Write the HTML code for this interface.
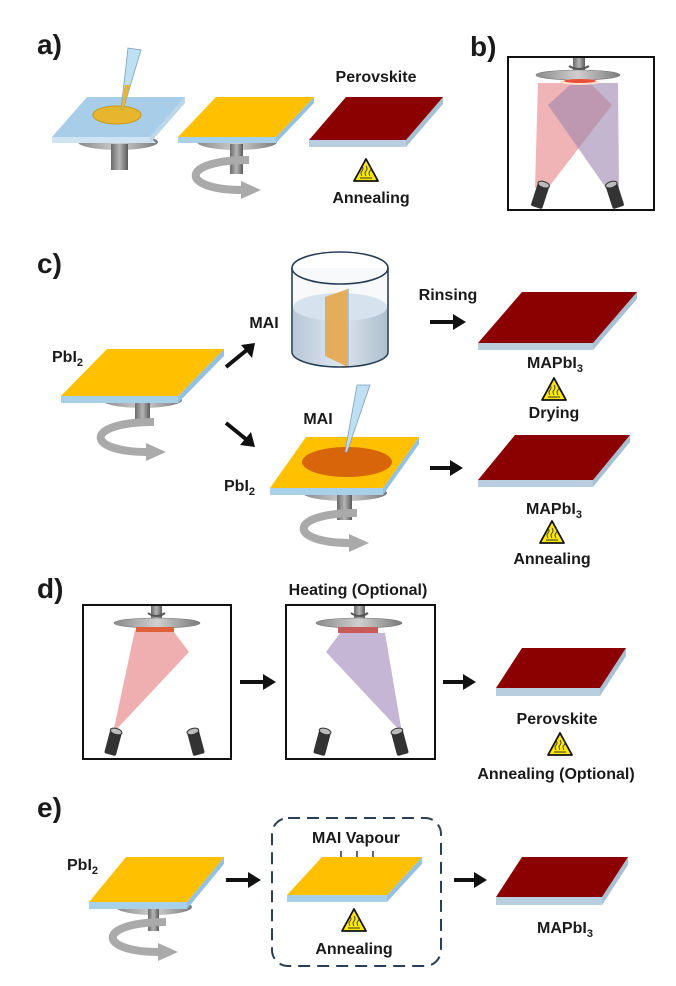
<!DOCTYPE html>
<html><head><meta charset="utf-8"><style>
html,body{margin:0;padding:0;background:#fff;}
svg{display:block;}
text{font-family:"Liberation Sans",Arial,sans-serif;font-weight:bold;fill:#1a1a1a;}
</style></head><body>
<svg width="676" height="986" viewBox="0 0 676 986" xmlns="http://www.w3.org/2000/svg">
<defs>
  <linearGradient id="gshaft" x1="0" x2="1" y1="0" y2="0"><stop offset="0" stop-color="#6a6a6a"/><stop offset=".5" stop-color="#b5b5b5"/><stop offset="1" stop-color="#5a5a5a"/></linearGradient>
  <linearGradient id="gdisk" x1="0" x2="1"><stop offset="0" stop-color="#8a8a8a"/><stop offset=".5" stop-color="#d0d0d0"/><stop offset="1" stop-color="#7a7a7a"/></linearGradient>
  <linearGradient id="gliq" x1="0" x2="1"><stop offset="0" stop-color="#b8c8d6"/><stop offset=".5" stop-color="#dde7ef"/><stop offset="1" stop-color="#aebfce"/></linearGradient>
  <g id="warn">
    <polygon points="0,-13 12,9 -12,9" fill="#ffe800" stroke="#111" stroke-width="1.8" stroke-linejoin="round"/>
    <path d="M-4,4 q-2,-3 0,-5 q2,-2 0,-5 M0,4 q-2,-3 0,-5 q2,-2 0,-5 M4,4 q-2,-3 0,-5 q2,-2 0,-5" fill="none" stroke="#333" stroke-width="0.9"/>
    <line x1="-6" y1="6" x2="6" y2="6" stroke="#333" stroke-width="1"/>
  </g>
  <g id="rot">
    <path d="M12,0 C-58,0 -58,30 6,30" fill="none" stroke="#aaa" stroke-width="8"/>
    <polygon points="4,21 24,30 4,39" fill="#aaa"/>
  </g>
  <g id="src">
    <rect x="-6" y="-12" width="12" height="24" rx="2" fill="#333"/>
    <ellipse cx="0" cy="-12" rx="6" ry="3" fill="#bbb" stroke="#333" stroke-width="1"/>
  </g>
</defs>

<!-- ===== a) ===== -->
<text x="37" y="54" font-size="28">a)</text>
<ellipse cx="118" cy="142" rx="40" ry="8" fill="url(#gdisk)"/>
<rect x="111" y="144" width="17" height="26" fill="url(#gshaft)"/>
<polygon points="52,137 150,137 156,143 52,143" fill="#cfe3f2"/>
<polygon points="150,137 185,97 185,103 150,143" fill="#bcd7ea"/>
<polygon points="87,97 185,97 150,137 52,137" fill="#a8cde8"/>
<ellipse cx="117" cy="115" rx="24" ry="9" fill="#e8b52e" stroke="#c99a1a" stroke-width="1"/>
<polygon points="128,48 141,50 123,110 121,110" fill="#bfe0f2" stroke="#7aa0b8" stroke-width="0.8"/>
<polygon points="125,85 130,85 123,110 121,110" fill="#e8b52e"/>
<ellipse cx="237" cy="142" rx="40" ry="8" fill="url(#gdisk)"/>
<rect x="230" y="144" width="13" height="30" fill="url(#gshaft)"/>
<use href="#rot" x="237" y="160"/>
<polygon points="178,137 276,137 276,143 178,143" fill="#a8d0e8"/>
<polygon points="276,137 314,97 314,103 276,143" fill="#94c2de"/>
<polygon points="216,97 314,97 276,137 178,137" fill="#ffc000"/>
<polygon points="309,140 406,140 406,147 309,147" fill="#b9cfe0"/>
<polygon points="406,140 443,97 443,104 406,147" fill="#a6c0d4"/>
<polygon points="346,97 443,97 406,140 309,140" fill="#8b0000"/>
<text x="376" y="82" font-size="16" text-anchor="middle">Perovskite</text>
<use href="#warn" x="366" y="172"/>
<text x="371" y="203" font-size="16" text-anchor="middle">Annealing</text>

<!-- ===== b) ===== -->
<text x="470" y="56" font-size="28">b)</text>
<rect x="508" y="57" width="146" height="153" fill="#fff" stroke="#111" stroke-width="2"/>
<polygon points="538,83 590,83 612,105 548,188 535,188" fill="#e88b8f" opacity="0.65"/>
<polygon points="572,83 618,83 619,188 606,188 548,105" fill="#9c86ad" opacity="0.6"/>
<rect x="573" y="58" width="12" height="15" fill="url(#gshaft)"/>
<path d="M569,66 q10,6 20,0" fill="none" stroke="#555" stroke-width="2"/>
<ellipse cx="578" cy="75" rx="42" ry="5" fill="url(#gdisk)" stroke="#777" stroke-width="0.6"/>
<ellipse cx="580" cy="82" rx="20" ry="3" fill="#ffe0c8"/>
<ellipse cx="580" cy="81" rx="16" ry="2" fill="#e8503a"/>
<use href="#src" transform="translate(540,196) rotate(18)"/>
<use href="#src" transform="translate(615,196) rotate(-18)"/>

<!-- ===== c) ===== -->
<text x="37" y="273" font-size="28">c)</text>
<ellipse cx="142" cy="400" rx="40" ry="8" fill="url(#gdisk)"/>
<rect x="135" y="402" width="15" height="24" fill="url(#gshaft)"/>
<use href="#rot" x="142" y="422"/>
<polygon points="61,396 178,396 178,403 61,403" fill="#a8d0e8"/>
<polygon points="178,396 224,349 224,356 178,403" fill="#94c2de"/>
<polygon points="107,349 224,349 178,396 61,396" fill="#ffc000"/>
<text x="52" y="362" font-size="16">PbI<tspan font-size="11" dy="4">2</tspan></text>
<line x1="226" y1="367" x2="248" y2="349" stroke="#111" stroke-width="4"/>
<polygon points="255,343 252,358 241,345" fill="#111"/>
<line x1="226" y1="423" x2="247" y2="440" stroke="#111" stroke-width="4"/>
<polygon points="255,447 240,445 251,432" fill="#111"/>
<!-- beaker -->
<text x="264" y="328" font-size="16" text-anchor="middle">MAI</text>
<path d="M292,268 L292,352 A48,15 0 0 0 388,352 L388,268" fill="#f7f9fb"/>
<path d="M293,307 L293,352 A47,15 0 0 0 387,352 L387,307 Z" fill="url(#gliq)"/>
<ellipse cx="340" cy="307" rx="47" ry="14" fill="#d6e3ee"/>
<polygon points="325,297 348,289 348,367 325,356" fill="#e6a64a" opacity="0.9"/>
<line x1="348" y1="289" x2="348" y2="367" stroke="#9cc4e0" stroke-width="2"/>
<path d="M292,268 L292,352 A48,15 0 0 0 388,352 L388,268" fill="none" stroke="#2a3f55" stroke-width="1.6"/>
<ellipse cx="340" cy="268" rx="48" ry="16" fill="none" stroke="#2a3f55" stroke-width="1.6"/>
<text x="448" y="300" font-size="16" text-anchor="middle">Rinsing</text>
<line x1="430" y1="322" x2="455" y2="322" stroke="#111" stroke-width="4"/>
<polygon points="466,322 453,314 453,330" fill="#111"/>
<polygon points="478,343 593,343 593,350 478,350" fill="#b9cfe0"/>
<polygon points="593,343 637,292 637,299 593,350" fill="#a6c0d4"/>
<polygon points="522,292 637,292 593,343 478,343" fill="#8b0000"/>
<text x="555" y="368" font-size="16" text-anchor="middle">MAPbI<tspan font-size="11" dy="4">3</tspan></text>
<use href="#warn" x="554" y="391"/>
<text x="554" y="418" font-size="16" text-anchor="middle">Drying</text>
<text x="318" y="424" font-size="16" text-anchor="middle">MAI</text>
<ellipse cx="345" cy="493" rx="42" ry="8" fill="url(#gdisk)"/>
<rect x="337" y="495" width="15" height="25" fill="url(#gshaft)"/>
<use href="#rot" x="345" y="513"/>
<polygon points="270,488 383,488 383,495 270,495" fill="#a8d0e8"/>
<polygon points="383,488 419,437 419,444 383,495" fill="#94c2de"/>
<polygon points="306,437 419,437 383,488 270,488" fill="#ffc000"/>
<ellipse cx="347" cy="462" rx="45" ry="15" fill="#d9650a"/>
<polygon points="357,385 370,385 347,452 345,452" fill="#bfe0f2" stroke="#7aa0b8" stroke-width="0.8"/>
<text x="224" y="491" font-size="16">PbI<tspan font-size="11" dy="4">2</tspan></text>
<line x1="430" y1="468" x2="452" y2="468" stroke="#111" stroke-width="4"/>
<polygon points="463,468 450,460 450,476" fill="#111"/>
<polygon points="478,480 593,480 593,487 478,487" fill="#b9cfe0"/>
<polygon points="593,480 630,435 630,442 593,487" fill="#a6c0d4"/>
<polygon points="515,435 630,435 593,480 478,480" fill="#8b0000"/>
<text x="554" y="514" font-size="16" text-anchor="middle">MAPbI<tspan font-size="11" dy="4">3</tspan></text>
<use href="#warn" x="552" y="534"/>
<text x="552" y="564" font-size="16" text-anchor="middle">Annealing</text>

<!-- ===== d) ===== -->
<text x="37" y="598" font-size="28">d)</text>
<text x="358" y="595" font-size="16" text-anchor="middle">Heating (Optional)</text>
<rect x="83" y="605" width="148" height="154" fill="#fff" stroke="#111" stroke-width="2"/>
<polygon points="135,630 174,632 189,652 113,733" fill="#e88b8f" opacity="0.7"/>
<rect x="151" y="606" width="11" height="14" fill="url(#gshaft)"/>
<path d="M148,613 q8,6 17,0" fill="none" stroke="#555" stroke-width="2"/>
<ellipse cx="157" cy="623" rx="43" ry="5" fill="url(#gdisk)" stroke="#777" stroke-width="0.6"/>
<rect x="136" y="627" width="38" height="5" fill="#e0603a"/>
<use href="#src" transform="translate(113,743) rotate(15)"/>
<use href="#src" transform="translate(196,743) rotate(-15)"/>
<line x1="240" y1="682" x2="265" y2="682" stroke="#111" stroke-width="4"/>
<polygon points="276,682 263,674 263,690" fill="#111"/>
<rect x="286" y="605" width="149" height="154" fill="#fff" stroke="#111" stroke-width="2"/>
<polygon points="326,652 340,633 385,633 402,733" fill="#a48fbd" opacity="0.65"/>
<rect x="354" y="606" width="11" height="14" fill="url(#gshaft)"/>
<path d="M351,613 q8,6 17,0" fill="none" stroke="#555" stroke-width="2"/>
<ellipse cx="359" cy="623" rx="43" ry="5" fill="url(#gdisk)" stroke="#777" stroke-width="0.6"/>
<rect x="338" y="627" width="40" height="6" fill="#c85a5a"/>
<use href="#src" transform="translate(322,743) rotate(15)"/>
<use href="#src" transform="translate(400,743) rotate(-15)"/>
<line x1="443" y1="682" x2="465" y2="682" stroke="#111" stroke-width="4"/>
<polygon points="476,682 463,674 463,690" fill="#111"/>
<polygon points="496,688 600,688 600,696 496,696" fill="#b9cfe0"/>
<polygon points="600,688 626,648 626,656 600,696" fill="#a6c0d4"/>
<polygon points="522,648 626,648 600,688 496,688" fill="#8b0000"/>
<text x="557" y="724" font-size="16" text-anchor="middle">Perovskite</text>
<use href="#warn" x="560" y="746"/>
<text x="556" y="779" font-size="16" text-anchor="middle">Annealing (Optional)</text>

<!-- ===== e) ===== -->
<text x="37" y="817" font-size="28">e)</text>
<ellipse cx="154" cy="907" rx="38" ry="8" fill="url(#gdisk)"/>
<rect x="148" y="909" width="11" height="22" fill="url(#gshaft)"/>
<use href="#rot" x="154" y="922"/>
<polygon points="89,902 187,902 187,909 89,909" fill="#a8d0e8"/>
<polygon points="187,902 224,857 224,864 187,909" fill="#94c2de"/>
<polygon points="126,857 224,857 187,902 89,902" fill="#ffc000"/>
<text x="67" y="870" font-size="16">PbI<tspan font-size="11" dy="4">2</tspan></text>
<line x1="226" y1="880" x2="250" y2="880" stroke="#111" stroke-width="4"/>
<polygon points="261,880 248,872 248,888" fill="#111"/>
<rect x="272" y="818" width="169" height="148" rx="16" fill="none" stroke="#2a3f55" stroke-width="2" stroke-dasharray="12,7"/>
<text x="356" y="843" font-size="16" text-anchor="middle">MAI Vapour</text>
<g stroke="#111" stroke-width="1.3"><line x1="341" y1="851" x2="341" y2="864"/><line x1="357" y1="851" x2="357" y2="864"/><line x1="373" y1="851" x2="373" y2="864"/></g>
<g fill="#111"><polygon points="341,867 338,861 344,861"/><polygon points="357,867 354,861 360,861"/><polygon points="373,867 370,861 376,861"/></g>
<polygon points="287,895 387,895 387,902 287,902" fill="#a8d0e8"/>
<polygon points="387,895 422,857 422,864 387,902" fill="#94c2de"/>
<polygon points="322,857 422,857 387,895 287,895" fill="#ffc000"/>
<use href="#warn" x="354" y="922"/>
<text x="354" y="954" font-size="16" text-anchor="middle">Annealing</text>
<line x1="454" y1="880" x2="476" y2="880" stroke="#111" stroke-width="4"/>
<polygon points="487,880 474,872 474,888" fill="#111"/>
<polygon points="496,897 602,897 602,905 496,905" fill="#b9cfe0"/>
<polygon points="602,897 628,857 628,865 602,905" fill="#a6c0d4"/>
<polygon points="522,857 628,857 602,897 496,897" fill="#8b0000"/>
<text x="565" y="933" font-size="16" text-anchor="middle">MAPbI<tspan font-size="11" dy="4">3</tspan></text>
</svg>
</body></html>
